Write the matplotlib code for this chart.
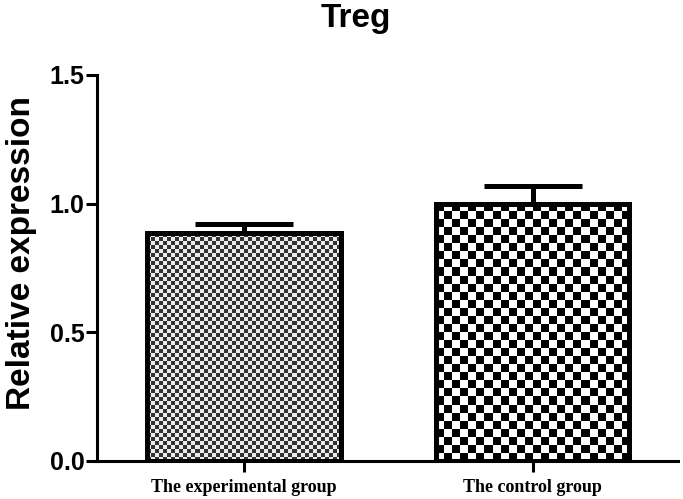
import numpy as np
import matplotlib
matplotlib.use('Agg')
import matplotlib.pyplot as plt

groups = ['The experimental group', 'The control group']
values = [0.885, 1.0]
errors = [0.035, 0.067]
cells_px = [4, 8]
cell_tones = [(0.2, 0.92), (0.0, 1.0)]

fig = plt.figure(figsize=(6.83, 4.99), dpi=100)
ax = fig.add_axes([97 / 683, 38 / 499, (678 - 97) / 683, (461 - 75) / 499])

x = np.arange(len(groups))
bars = ax.bar(x, values, width=0.67, facecolor='none', edgecolor='black',
              linewidth=3.6, zorder=3)
ax.errorbar(x, values, yerr=[[0] * len(errors), errors], fmt='none',
            ecolor='black', elinewidth=3.6, capsize=35, capthick=3.6, zorder=2)

ax.set_xlim(-0.51, 1.504)
ax.set_ylim(0, 1.5)
fig.canvas.draw()

# checkerboard fill, clipped to each bar
for b, c, tones in zip(bars, cells_px, cell_tones):
    x0, y0, w, h = b.get_x(), b.get_y(), b.get_width(), b.get_height()
    p0 = ax.transData.transform((x0, y0))
    p1 = ax.transData.transform((x0 + w, y0 + h))
    nx = int(round((p1[0] - p0[0]) / c))
    ny = int(round((p1[1] - p0[1]) / c))
    board = np.where(np.add.outer(np.arange(ny), np.arange(nx)) % 2,
                     tones[1], tones[0])
    im = ax.imshow(board, cmap='gray', vmin=0, vmax=1,
                   extent=[x0, x0 + w, y0, y0 + h],
                   aspect='auto', interpolation='nearest', zorder=1)
    im.set_clip_path(b)

ax.set_xlim(-0.51, 1.504)
ax.set_ylim(0, 1.5)

ax.spines['top'].set_visible(False)
ax.spines['right'].set_visible(False)
ax.spines['left'].set_linewidth(2.2)
ax.spines['bottom'].set_linewidth(2.2)

ax.set_yticks([0.0, 0.5, 1.0, 1.5])
ax.set_yticklabels(['0.0', '0.5', '1.0', '1.5'])
ax.tick_params(axis='y', length=8, width=2.2, pad=1, labelsize=18)
for t in ax.get_yticklabels():
    t.set_fontfamily('Liberation Sans')
    t.set_fontweight('bold')

ax.set_xticks(x)
ax.set_xticklabels(groups, fontfamily='Liberation Serif', fontweight='bold',
                   fontsize=13)
ax.tick_params(axis='x', length=8, width=2.2, pad=5)

ax.set_ylabel('Relative expression', fontfamily='Liberation Sans',
              fontweight='bold', fontsize=24)
ax.yaxis.set_label_coords(-0.103, 0.54)
fig.text(356 / 683, 1 - 19 / 499, 'Treg', ha='center', va='center',
         fontfamily='Liberation Sans', fontweight='bold', fontsize=24)

fig.savefig('out.png', dpi=100)
